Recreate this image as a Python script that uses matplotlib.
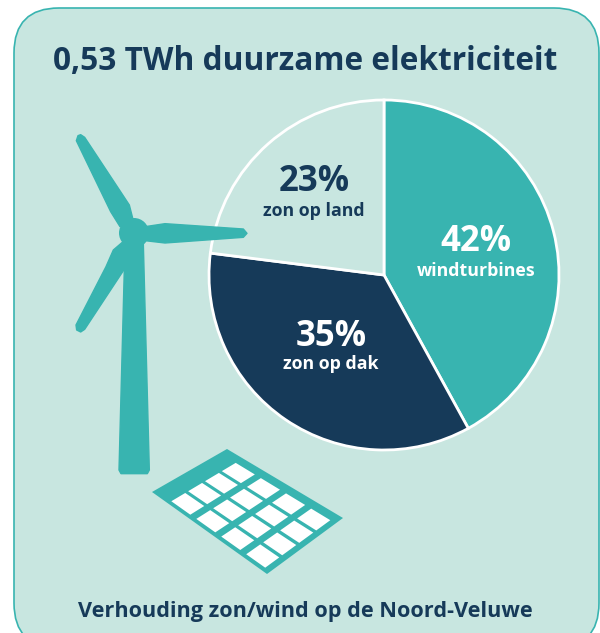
import numpy as np
from matplotlib import pyplot as plt
from matplotlib.patches import FancyBboxPatch, Circle, Polygon

categories = ['windturbines', 'zon op dak', 'zon op land']
shares = [42, 35, 23]

TEAL = '#38b4b0'
NAVY = '#163a59'
MINT = '#c8e6e0'

plt.rcParams['font.family'] = ['Open Sans', 'DejaVu Sans']

fig = plt.figure(figsize=(6, 6.33), dpi=100)
ax = fig.add_axes([0, 0, 1, 1])

# background card, runs off the bottom a bit
card = FancyBboxPatch((14, 8), 585, 640, boxstyle='round,pad=0,rounding_size=45',
                      fc=MINT, ec=TEAL, lw=1.2, zorder=1)
ax.add_patch(card)

# y axis is flipped below, so counterclock ends up clockwise on screen
wedges, _ = ax.pie(shares, colors=[TEAL, NAVY, MINT], startangle=-90, counterclock=True,
                   center=(384, 275), radius=175,
                   wedgeprops={'edgecolor': 'white', 'linewidth': 2})
for w in wedges:
    w.set_zorder(3)

ax.set_xlim(0, 600)
ax.set_ylim(633, 0)
ax.set_aspect('auto')
ax.axis('off')


def turbine_part(pts):
    xy = np.array(pts) / 3 + [50, 110]
    ax.add_patch(Polygon(xy, closed=True, fc=TEAL, ec=TEAL, lw=1, joinstyle='round', zorder=4))


turbine_part([(225, 400), (280, 400), (298, 1080), (292, 1091), (213, 1091), (207, 1080)])
turbine_part([(79, 92), (84, 77), (92, 74), (104, 82), (215, 250), (238, 285), (252, 340), (210, 350), (182, 305)])
turbine_part([(285, 350), (345, 341), (580, 357), (591, 370), (580, 382), (345, 399), (285, 392)])
turbine_part([(225, 390), (190, 420), (168, 470), (78, 645), (80, 660), (92, 666), (104, 658), (228, 470)])
ax.add_patch(Circle((134, 233), 15, fc=TEAL, ec='none', zorder=5))

# solar panel, not a true parallelogram because of the perspective
A = np.array([227, 449.])
B = np.array([343, 518.])
C = np.array([267, 574.])
D = np.array([152, 492.])


def panel_point(u, v):
    return (1 - u) * (1 - v) * A + u * (1 - v) * B + (1 - u) * v * D + u * v * C


ax.add_patch(Polygon([A, B, C, D], closed=True, fc=TEAL, ec='none', zorder=4))
for row in range(4):
    for col in range(4):
        u0 = 0.138 + col * 0.217
        v0 = 0.097 + row * 0.224
        u1, v1 = u0 + 0.165, v0 + 0.185
        corners = [panel_point(u0, v0), panel_point(u1, v0), panel_point(u1, v1), panel_point(u0, v1)]
        ax.add_patch(Polygon(corners, closed=True, fc='white', ec='none', zorder=5))

# texts
ax.text(305, 62, '0,53 TWh duurzame elektriciteit', color=NAVY, fontsize=22.8,
        fontweight='bold', ha='center', va='center', zorder=6)
ax.text(305, 611, 'Verhouding zon/wind op de Noord-Veluwe', color=NAVY, fontsize=15.6,
        fontweight='bold', ha='center', va='center', zorder=6)

label_pos = [(476, 242, 271), (331, 337, 364), (314, 182, 211)]
label_col = ['white', 'white', NAVY]
for cat, share, (x, y1, y2), col in zip(categories, shares, label_pos, label_col):
    ax.text(x, y1, f'{share}%', color=col, fontsize=25, fontweight='bold',
            ha='center', va='center', zorder=6)
    ax.text(x, y2, cat, color=col, fontsize=12.8, fontweight='bold',
            ha='center', va='center', zorder=6)

fig.savefig('out.png', dpi=100, facecolor='white')
